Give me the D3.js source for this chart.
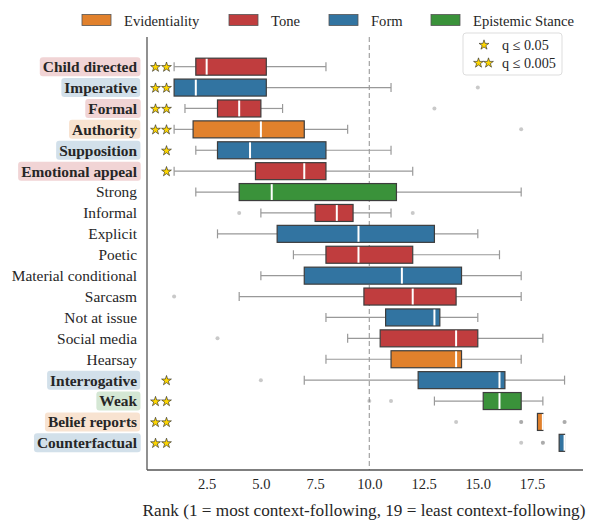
<!DOCTYPE html>
<html>
<head>
<meta charset="utf-8">
<script src="https://cdn.jsdelivr.net/npm/d3@7"></script>
<style>
  body { margin: 0; background: #fff; }
  svg { display: block; }
  svg text { font-family: "Liberation Serif", "Times New Roman", Times, serif; }
</style>
</head>
<body>
<svg id="chart" width="595" height="520"></svg>
<script>
// ---- data ----
const categories = ["Child directed","Imperative","Formal","Authority","Supposition","Emotional appeal","Strong","Informal","Explicit","Poetic","Material conditional","Sarcasm","Not at issue","Social media","Hearsay","Interrogative","Weak","Belief reports","Counterfactual"];
const groups = ["Tone","Form","Tone","Evidentiality","Form","Tone","Epistemic Stance","Tone","Form","Tone","Form","Tone","Form","Tone","Evidentiality","Form","Epistemic Stance","Evidentiality","Form"];
const significance = [2,2,2,2,1,1,0,0,0,0,0,0,0,0,0,1,2,2,2];
const whiskerLow = [1,1,1.5,1,2,1,2,5,3,6.5,5,4,8,9,8,7,13,17.75,18.75];
const q1 = [2,1,3,1.875,3,4.75,4,7.5,5.75,8,7,9.75,10.75,10.5,11,12.25,15.25,17.75,18.75];
const medians = [2.5,2,4,5,4.5,7,5.5,8.5,9.5,9.5,11.5,12,13,14,14,16,16,18,19];
const q3 = [5.25,5.25,5,7,8,8,11.25,9.25,13,12,14.25,14,13.25,15,14.25,16.25,17,18,19];
const whiskerHigh = [8,11,6,9,11,12,17,11,15,16,17,17,15,18,17,19,18,18,19];
const outliers = [[],[15],[13],[17],[],[],[],[4,12],[],[],[],[1],[],[3],[],[5],[10,11],[14,17,17,19,19],[17,18,18]];
const legendGroups = ["Evidentiality","Tone","Form","Epistemic Stance"];
const groupColors = ["#e1812c","#c03d3e","#3274a1","#3a923a"];
const xTicks = [2.5,5.0,7.5,10.0,12.5,15.0,17.5];
const refLine = 10;
const sigLabels = ["q \u2264 0.05","q \u2264 0.005"];
const xLabel = "Rank (1 = most context-following, 19 = least context-following)";

// ---- layout ----
const FONT = "'Liberation Serif', 'Times New Roman', Times, serif";
const svg = d3.select("#chart");
const pL = 147, pR = 583, pT = 37, pB = 470;
const color = d3.scaleOrdinal().domain(legendGroups).range(groupColors);
const x = d3.scaleLinear().domain([-0.25, 19.85]).range([pL, pR]);
const y = d3.scaleLinear().domain([-1.42, 19.3]).range([pT, pB]);
const boxH = 17;

// dashed reference line
svg.append("line")
  .attr("x1", x(refLine)).attr("x2", x(refLine))
  .attr("y1", pT).attr("y2", pB)
  .attr("stroke", "#aaaaaa").attr("stroke-width", 1.3)
  .attr("stroke-dasharray", "5,3");

// boxes
const rows = svg.append("g").selectAll("g").data(categories).join("g");
rows.each(function(c, i) {
  const g = d3.select(this);
  const cy = y(i);
  const wc = "#999999";
  g.append("line").attr("x1", x(whiskerLow[i])).attr("x2", x(q1[i])).attr("y1", cy).attr("y2", cy).attr("stroke", wc).attr("stroke-width", 1.2);
  g.append("line").attr("x1", x(q3[i])).attr("x2", x(whiskerHigh[i])).attr("y1", cy).attr("y2", cy).attr("stroke", wc).attr("stroke-width", 1.2);
  if (whiskerLow[i] < q1[i]) {
    g.append("line").attr("x1", x(whiskerLow[i])).attr("x2", x(whiskerLow[i])).attr("y1", cy - 4.5).attr("y2", cy + 4.5).attr("stroke", wc).attr("stroke-width", 1.2);
  }
  if (whiskerHigh[i] > q3[i]) {
    g.append("line").attr("x1", x(whiskerHigh[i])).attr("x2", x(whiskerHigh[i])).attr("y1", cy - 4.5).attr("y2", cy + 4.5).attr("stroke", wc).attr("stroke-width", 1.2);
  }
  g.append("rect")
    .attr("x", x(q1[i])).attr("y", cy - boxH / 2)
    .attr("width", Math.max(0, x(q3[i]) - x(q1[i]))).attr("height", boxH)
    .attr("fill", color(groups[i]))
    .attr("stroke", "#3d3d3d").attr("stroke-width", 1.2);
  g.append("line").attr("x1", x(medians[i])).attr("x2", x(medians[i]))
    .attr("y1", cy - boxH / 2 + 0.6).attr("y2", cy + boxH / 2 - 0.6)
    .attr("stroke", "#ffffff").attr("stroke-width", 2);
  g.selectAll("circle").data(outliers[i]).join("circle")
    .attr("cx", d => x(d)).attr("cy", cy).attr("r", 2)
    .attr("fill", "#888888").attr("fill-opacity", 0.45);
});

// stars
const starPath = d3.symbol().type(d3.symbolStar).size(30);
significance.forEach((s, i) => {
  const xs = s === 2 ? [155.5, 166.5] : s === 1 ? [166.5] : [];
  xs.forEach(sx => {
    svg.append("path").attr("d", starPath())
      .attr("transform", `translate(${sx},${y(i) + 0.5})`)
      .attr("fill", "#ffd700").attr("stroke", "#222").attr("stroke-width", 0.6);
  });
});

// category labels
const labG = svg.append("g");
categories.forEach((c, i) => {
  const bold = significance[i] > 0;
  const gl = labG.append("g");
  const t = gl.append("text")
    .attr("x", 137).attr("y", y(i)).attr("dy", "0.35em")
    .attr("text-anchor", "end")
    .style("font-family", FONT)
    .attr("font-size", 15.4)
    .attr("font-weight", bold ? "bold" : "normal")
    .attr("fill", "#262626")
    .text(c);
  if (bold) {
    const bb = t.node().getBBox();
    gl.insert("rect", "text")
      .attr("x", bb.x - 3).attr("y", y(i) - 9.5)
      .attr("width", bb.width + 6).attr("height", 19)
      .attr("rx", 3)
      .attr("fill", color(groups[i])).attr("fill-opacity", 0.22);
  }
});

// axes spines
svg.append("line").attr("x1", pL).attr("x2", pL).attr("y1", pT).attr("y2", pB).attr("stroke", "#555").attr("stroke-width", 1.3);
svg.append("line").attr("x1", pL).attr("x2", pR).attr("y1", pB).attr("y2", pB).attr("stroke", "#555").attr("stroke-width", 1.3);

const xAxis = d3.axisBottom(x).tickValues(xTicks).tickFormat(d3.format(".1f")).tickSize(0).tickPadding(9);
const ax = svg.append("g").attr("transform", `translate(0,${pB})`).call(xAxis);
ax.attr("font-family", null);
ax.select(".domain").remove();
ax.selectAll("text").attr("font-size", 14.5).attr("fill", "#262626").style("font-family", FONT);

svg.append("text").attr("x", 364).attr("y", 516).attr("text-anchor", "middle")
  .style("font-family", FONT)
  .attr("font-size", 17.2).attr("fill", "#262626").text(xLabel);

// top legend
const legX = [82, 229, 329, 431];
legendGroups.forEach((gname, k) => {
  svg.append("rect").attr("x", legX[k]).attr("y", 14.5).attr("width", 29).attr("height", 11)
    .attr("fill", color(gname)).attr("stroke", "#555").attr("stroke-width", 0.8);
  svg.append("text").attr("x", legX[k] + 42).attr("y", 20.5).attr("dy", "0.35em")
    .style("font-family", FONT)
    .attr("font-size", 14.6).attr("fill", "#262626").text(gname);
});

// significance legend
svg.append("rect").attr("x", 463).attr("y", 33).attr("width", 99).attr("height", 42)
  .attr("rx", 3).attr("fill", "#fff").attr("stroke", "#dddddd").attr("stroke-width", 1);
const legStars = [[484], [478.5, 488.5]];
const legY = [45, 63];
sigLabels.forEach((lab, k) => {
  legStars[k].forEach(sx => {
    svg.append("path").attr("d", starPath())
      .attr("transform", `translate(${sx},${legY[k]})`)
      .attr("fill", "#ffd700").attr("stroke", "#222").attr("stroke-width", 0.6);
  });
  svg.append("text").attr("x", 502).attr("y", legY[k]).attr("dy", "0.35em")
    .style("font-family", FONT)
    .attr("font-size", 14.2).attr("fill", "#262626").text(lab);
});
</script>
</body>
</html>
